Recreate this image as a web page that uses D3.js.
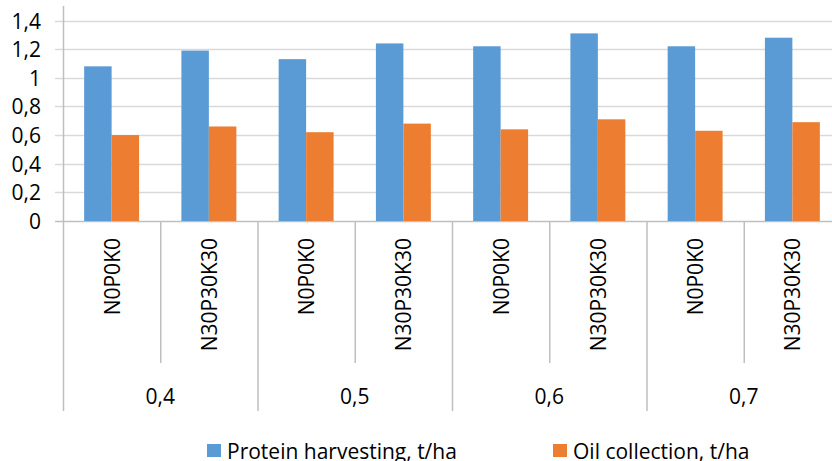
<!DOCTYPE html>
<html>
<head>
<meta charset="utf-8">
<script src="https://cdn.jsdelivr.net/npm/d3@7"></script>
<style>
  body { margin: 0; background: #fff; overflow: hidden; }
  text { font-family: "Open Sans", sans-serif; fill: #000; }
</style>
</head>
<body>
<div id="chart"></div>
<script>
const width = 832,
  height = 461;

// data
const groups = ["0,4", "0,5", "0,6", "0,7"];
const treatments = ["N0P0K0", "N30P30K30"];
const protein = [1.08, 1.19, 1.13, 1.24, 1.22, 1.31, 1.22, 1.28];
const oil = [0.60, 0.66, 0.62, 0.68, 0.64, 0.71, 0.63, 0.69];
const seriesNames = ["Protein harvesting, t/ha", "Oil collection, t/ha"];
const colors = ["#5b9bd5", "#ed7d31"];
const yTicks = [0, 0.2, 0.4, 0.6, 0.8, 1, 1.2, 1.4];

const rows = [];
groups.forEach((g, gi) => {
  treatments.forEach((t, ti) => {
    const i = gi * treatments.length + ti;
    rows.push({ key: g + "|" + t, group: g, treatment: t, values: [protein[i], oil[i]] });
  });
});

const left = 63, right = 841, y0 = 221;

const x = d3.scaleBand()
  .domain(rows.map(d => d.key))
  .range([left, right]);

const x1 = d3.scaleBand()
  .domain(seriesNames)
  .range([0, x.bandwidth()])
  .paddingOuter(0.77);

const y = d3.scaleLinear()
  .domain([0, 1.4])
  .range([y0, 20.5]);

const svg = d3.select("#chart")
  .append("svg")
  .attr("width", width)
  .attr("height", height);

// gridlines + y labels
svg.append("g")
  .selectAll("line")
  .data(yTicks)
  .join("line")
  .attr("x1", 55)
  .attr("x2", right)
  .attr("y1", d => Math.round(y(d)) + 0.5)
  .attr("y2", d => Math.round(y(d)) + 0.5)
  .attr("stroke", d => d === 0 ? "#bfbfbf" : "#d9d9d9")
  .attr("stroke-width", 1.5);

svg.append("g")
  .selectAll("text")
  .data(yTicks)
  .join("text")
  .attr("x", 41)
  .attr("y", d => y(d))
  .attr("text-anchor", "end")
  .attr("dominant-baseline", "central")
  .style("font-size", "21px")
  .text(d => d3.format(".1f")(d).replace(".", ",").replace(/,0$/, "").replace(/^0,0$/, "0"));

// bars
const bars = svg.append("g")
  .selectAll("g")
  .data(rows)
  .join("g")
  .attr("transform", d => `translate(${x(d.key)},0)`);

bars.selectAll("rect")
  .data(d => d.values.map((v, i) => ({ name: seriesNames[i], value: v, i })))
  .join("rect")
  .attr("x", d => x1(d.name))
  .attr("width", x1.bandwidth())
  .attr("y", d => y(d.value))
  .attr("height", d => y0 - y(d.value))
  .attr("fill", d => colors[d.i]);

// y axis line
svg.append("line")
  .attr("x1", left + 0.5).attr("x2", left + 0.5)
  .attr("y1", 6).attr("y2", 411)
  .attr("stroke", "#bfbfbf").attr("stroke-width", 1.5);

// category dividers
svg.append("g")
  .selectAll("line")
  .data(rows.slice(1).concat([null]))
  .join("line")
  .attr("x1", (d, i) => (i < rows.length - 1 ? x(rows[i + 1].key) : right) + 0.5)
  .attr("x2", (d, i) => (i < rows.length - 1 ? x(rows[i + 1].key) : right) + 0.5)
  .attr("y1", y0)
  .attr("y2", (d, i) => (i + 1) % treatments.length === 0 ? 411 : 363)
  .attr("stroke", "#bfbfbf")
  .attr("stroke-width", 1.5);

// treatment labels (rotated)
svg.append("g")
  .selectAll("text")
  .data(rows)
  .join("text")
  .attr("transform", d => `translate(${x(d.key) + x.bandwidth() / 2},238) rotate(-90)`)
  .attr("text-anchor", "end")
  .attr("dominant-baseline", "central")
  .style("font-size", "21px")
  .text(d => d.treatment);

// group labels
svg.append("g")
  .selectAll("text")
  .data(groups)
  .join("text")
  .attr("x", g => x(g + "|" + treatments[0]) + x.bandwidth())
  .attr("y", 396)
  .attr("text-anchor", "middle")
  .attr("dominant-baseline", "central")
  .style("font-size", "21px")
  .text(g => g);

// legend
const legendX = [207, 553];
const legend = svg.append("g")
  .selectAll("g")
  .data(seriesNames)
  .join("g")
  .attr("transform", (d, i) => `translate(${legendX[i]},444)`);

legend.append("rect")
  .attr("width", 14)
  .attr("height", 13)
  .attr("fill", (d, i) => colors[i]);

legend.append("text")
  .attr("x", 20)
  .attr("y", 7)
  .attr("dominant-baseline", "central")
  .style("font-size", "21px")
  .text(d => d);
</script>
</body>
</html>
